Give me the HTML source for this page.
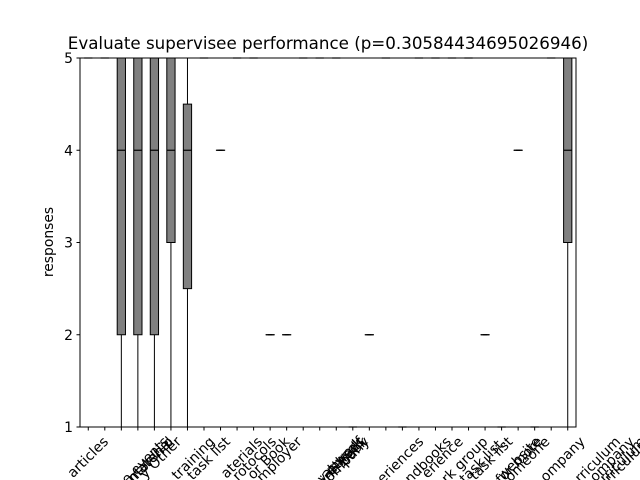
<!DOCTYPE html>
<html><head><meta charset="utf-8"><style>
html,body{margin:0;padding:0;background:#fff;width:640px;height:480px;overflow:hidden;}
svg{display:block;font-family:"DejaVu Sans","Liberation Sans",sans-serif;overflow:hidden;}
</style></head><body>
<svg id="chart" width="640" height="480" viewBox="0 0 640 480" xmlns="http://www.w3.org/2000/svg">
<rect width="640" height="480" fill="#fff"/>
<text x="328" y="49" font-size="16.7" text-anchor="middle">Evaluate supervisee performance (p=0.30584434695026946)</text>
<text transform="translate(53,242) rotate(-90)" font-size="13.9" text-anchor="middle">responses</text>
<g id="plot"></g>
<g id="xlabels"></g>
<rect x="80" y="58" width="496" height="369" fill="none" stroke="#000" stroke-width="1"/>
</svg>
<script>
const categories = ["articles","Attending outside events","Informal mentorship","Print material","Any Other","In-house training","Follow a task list","Reading web materials","Reading the protocols","The Supervisor Book","From my employer","Advice from colleagues at my company","Learning everything by myself","Observation of methods","Learning at work","Online book","Sharing others' experiences","Supervision manuals/handbooks","Learning from past experience","Participation in a peer work group","Developing a supervisory task list.","Using the supervisor's task list","Information from the BACB website","Asking and shadowing someone","Ask someone for more","Guidance from my own company","Coursework from a university curriculum","Coursework in a graduate school curriculum","Guidance from another company","Continuing education curriculum"];
const whiskerLow = [5,5,1,1,1,1,1,5,4,5,5,2,2,5,5,5,1,2,5,1,5,5,5,5,2,1,4,1,5,1];
const q1Values   = [5,5,2,2,2,3,2.5,5,4,5,5,2,2,5,5,5,1,2,5,1,5,5,5,5,2,1,4,1,5,3];
const medians    = [5,5,4,4,4,4,4,5,4,5,5,2,2,5,5,5,1,2,5,1,5,5,5,5,2,1,4,1,5,4];
const q3Values   = [5,5,5,5,5,5,4.5,5,4,5,5,2,2,5,5,5,1,2,5,1,5,5,5,5,2,1,4,1,5,5];
const whiskerHigh= [5,5,5,5,5,5,5,5,4,5,5,2,2,5,5,5,1,2,5,1,5,5,5,5,2,1,4,1,5,5];
const yTicks = [1,2,3,4,5];

const NS="http://www.w3.org/2000/svg";
const L=80,R=576,T=58,B=427;
const n=categories.length;
const xs=i=>L+(i+1-0.5)*(R-L)/n;
const ys=v=>B-(v-1)*(B-T)/4;
const bw=0.5*(R-L)/n;
const plot=document.getElementById('plot');
function mk(tag,attrs,parent){const e=document.createElementNS(NS,tag);for(const k in attrs)e.setAttribute(k,attrs[k]);(parent||plot).appendChild(e);return e;}

yTicks.forEach(v=>{
  const t=mk('line',{x1:L-3.5,x2:L,y1:ys(v),y2:ys(v),stroke:'#000'});
  
  
  const lb=mk('text',{x:L-7,y:ys(v)+5,'font-size':13.9,'text-anchor':'end'});
  lb.textContent=v;
  
  
});

const xl=document.getElementById('xlabels');
const C=0.7071;
categories.forEach((c,i)=>{
  const x=xs(i);
  const g=mk('g',{});
  
  
  mk('line',{x1:x,x2:x,y1:ys(whiskerLow[i]),y2:ys(q1Values[i]),stroke:'#000'},g);
  mk('line',{x1:x,x2:x,y1:ys(q3Values[i]),y2:ys(whiskerHigh[i]),stroke:'#000'},g);
  mk('line',{x1:x-bw/4,x2:x+bw/4,y1:ys(whiskerLow[i]),y2:ys(whiskerLow[i]),stroke:'#000'},g);
  mk('line',{x1:x-bw/4,x2:x+bw/4,y1:ys(whiskerHigh[i]),y2:ys(whiskerHigh[i]),stroke:'#000'},g);
  const top=ys(q3Values[i]),bot=ys(q1Values[i]);
  mk('rect',{x:x-bw/2,y:top,width:bw,height:Math.max(bot-top,0.01),fill:'#808080',stroke:'#000'},g);
  mk('line',{x1:x-bw/2,x2:x+bw/2,y1:ys(medians[i]),y2:ys(medians[i]),stroke:'#000','stroke-width':1.2},g);
  const tk=mk('line',{x1:x,x2:x,y1:B,y2:B+3.5,stroke:'#000'});
  
  
  const t=mk('text',{'font-size':13.9,'text-anchor':'end','dominant-baseline':'central'},xl);
  t.textContent=c;
  
  
  const len=t.getComputedTextLength();
  const h=16;
  const bb=(len+h)*C;
  const cx=x, cy=B+7+bb/2;
  const ex=cx+len/2*C, ey=cy-len/2*C;
  let s=c;
  while(s.length>1 && ey + t.getComputedTextLength()*C > 482){
    s=s.slice(1);
    t.textContent=s;
  }
  t.setAttribute('transform','translate('+ex+','+ey+') rotate(-45)');
});
</script>
</body></html>
